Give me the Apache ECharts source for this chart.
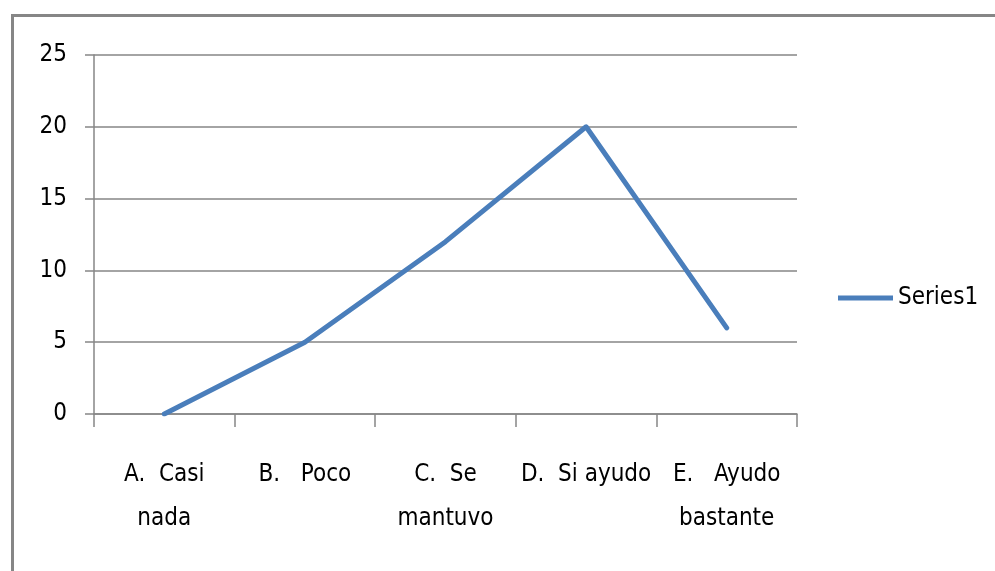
<!DOCTYPE html>
<html>
<head>
<meta charset="utf-8">
<script src="https://cdn.jsdelivr.net/npm/echarts@6/dist/echarts.min.js"></script>
<style>
html,body{margin:0;padding:0;background:#fff;}
#chart{width:995px;height:571px;}
</style>
</head>
<body>
<div id="chart"></div>
<script>
var categories = ["A.  Casi\nnada", "B.   Poco", "C.  Se\nmantuvo", "D.  Si ayudo", "E.   Ayudo\nbastante"];
var series1 = [0, 5, 12, 20, 6];
var yTicks = {min: 0, max: 25, interval: 5};

var font = '"DejaVu Sans Condensed", "Liberation Sans Narrow", sans-serif';
var chart = echarts.init(document.getElementById('chart'), null, {renderer: 'canvas'});
chart.setOption({
  animation: false,
  backgroundColor: '#ffffff',
  graphic: [{
    type: 'rect', left: 10, top: 13,
    shape: {x: 0, y: 0, width: 1000, height: 600},
    style: {fill: 'none', stroke: '#868686', lineWidth: 3}
  }],
  grid: {left: 94, right: 198, top: 55, bottom: 157},
  legend: {
    data: ['Series1'],
    left: 838, top: 286, padding: 0,
    icon: 'rect', itemWidth: 55, itemHeight: 5, itemGap: 4,
    textStyle: {fontFamily: font, fontSize: 24, color: '#000'}
  },
  xAxis: {
    type: 'category',
    data: categories,
    boundaryGap: true,
    axisLine: {lineStyle: {color: '#868686', width: 1.5}},
    axisTick: {show: true, length: 13, lineStyle: {color: '#868686', width: 1.5}},
    axisLabel: {fontFamily: font, fontSize: 24, color: '#000', lineHeight: 44, margin: 39, interval: 0, align: 'center'}
  },
  yAxis: {
    type: 'value',
    min: yTicks.min, max: yTicks.max, interval: yTicks.interval,
    axisLine: {show: true, lineStyle: {color: '#868686', width: 1.5}},
    axisTick: {show: true, length: 9, lineStyle: {color: '#868686', width: 1.5}},
    splitLine: {lineStyle: {color: '#868686', width: 1.5}},
    axisLabel: {fontFamily: font, fontSize: 24, color: '#000', margin: 27}
  },
  series: [{
    name: 'Series1',
    type: 'line',
    data: series1,
    symbol: 'none',
    lineStyle: {color: '#4A7EBB', width: 5, cap: 'round', join: 'round'},
    itemStyle: {color: '#4A7EBB'}
  }]
});
</script>
</body>
</html>
